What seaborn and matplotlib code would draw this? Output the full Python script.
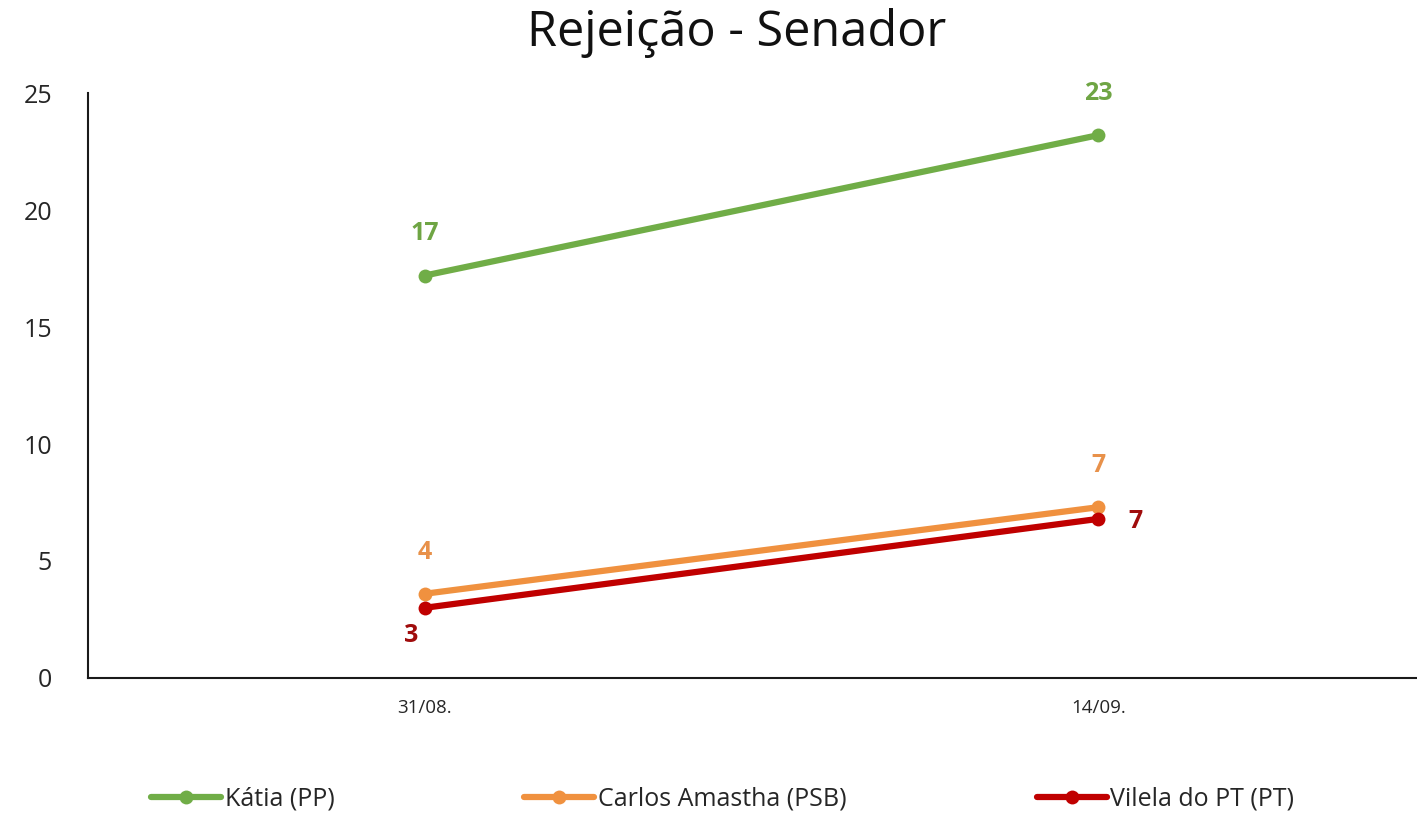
import matplotlib
matplotlib.use("Agg")
import matplotlib.pyplot as plt
import pandas as pd
import seaborn as sns

# Survey rounds and rejection rates (%) per candidate
dates = ["31/08.", "14/09."]
katia = [17.2, 23.2]
amastha = [3.6, 7.3]
vilela = [3.0, 6.8]
series_names = ["Kátia (PP)", "Carlos Amastha (PSB)", "Vilela do PT (PT)"]

line_colors = {"Kátia (PP)": "#70AD47",
               "Carlos Amastha (PSB)": "#F0913F",
               "Vilela do PT (PT)": "#C00000"}
label_colors = {"Kátia (PP)": "#6FA544",
                "Carlos Amastha (PSB)": "#E8914A",
                "Vilela do PT (PT)": "#A00C0C"}
# label offsets in points for each series, per date
label_offsets = {"Kátia (PP)": [(0, 30), (0, 30)],
                 "Carlos Amastha (PSB)": [(0, 30), (0, 30)],
                 "Vilela do PT (PT)": [(-10, -20), (27, -2)]}

rows = []
for name, vals in zip(series_names, [katia, amastha, vilela]):
    for i, (d, v) in enumerate(zip(dates, vals)):
        rows.append({"pos": i, "date": d, "valor": v, "candidato": name})
df = pd.DataFrame(rows)

sns.set_theme(style="white")
plt.rcParams["font.family"] = ["Open Sans", "DejaVu Sans"]

fig = plt.figure(figsize=(14.17, 8.24), dpi=100)
ax = fig.add_axes([0.0621, 0.1772, 0.9379, 0.7099])

sns.lineplot(data=df, x="pos", y="valor", hue="candidato",
             hue_order=series_names, palette=line_colors,
             marker="o", markersize=10, markeredgewidth=0,
             linewidth=4.5, ax=ax, legend=True)

for name, vals in zip(series_names, [katia, amastha, vilela]):
    for i, v in enumerate(vals):
        ax.annotate(f"{v:.0f}", (i, v), xytext=label_offsets[name][i],
                    textcoords="offset points", ha="center", va="center",
                    fontsize=18, fontweight="bold", color=label_colors[name])

ax.set_xlim(-0.5, 1.473)
ax.set_ylim(0, 25)
ax.set_yticks([0, 5, 10, 15, 20, 25])
ax.set_xticks(range(len(dates)))
ax.set_xticklabels(dates, fontsize=13.5, color="#262626")
ax.tick_params(axis="y", labelsize=18, labelcolor="#262626", pad=26, length=0)
ax.tick_params(axis="x", pad=15, length=0)
ax.set_xlabel("")
ax.set_ylabel("")
for s in ["top", "right"]:
    ax.spines[s].set_visible(False)
for s in ["left", "bottom"]:
    ax.spines[s].set_color("#1a1a1a")
    ax.spines[s].set_linewidth(1.5)
ax.grid(False)

fig.suptitle("Rejeição - Senador", x=0.52, y=0.99, fontsize=35, color="#111111")

handles, labels = ax.get_legend_handles_labels()
ax.legend_.remove()
fig.legend(handles, labels, loc="center", bbox_to_anchor=(0.51, 0.03), ncol=3,
           frameon=False, columnspacing=7.6, handlelength=2.8, handletextpad=0.15,
           prop={"size": 18})

fig.savefig("out.png", dpi=100, facecolor="white")
